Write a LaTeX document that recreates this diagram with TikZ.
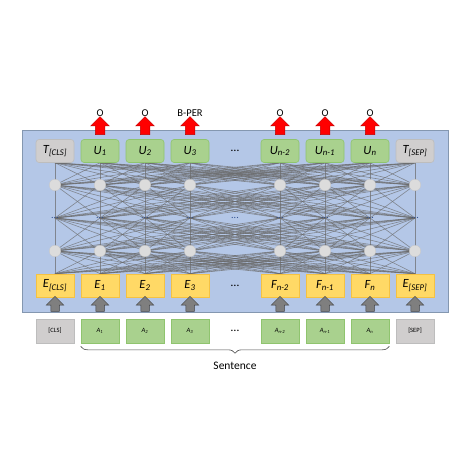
\documentclass[tikz,border=0pt]{standalone}
\usepackage{fontspec}
\setmainfont{Carlito}
\usetikzlibrary{positioning,shapes.arrows,decorations.pathreplacing,backgrounds}
\pgfdeclarelayer{wires}
\pgfsetlayers{background,wires,main}
\definecolor{panelblue}{HTML}{B4C7E7}
\definecolor{panelline}{HTML}{8497B0}
\definecolor{leafgreen}{HTML}{A9D18E}
\definecolor{leafline}{HTML}{8FC46E}
\definecolor{tokgrey}{HTML}{D0CECE}
\definecolor{tokline}{HTML}{BDBDBD}
\definecolor{embyellow}{HTML}{FFD966}
\definecolor{embline}{HTML}{F5C242}
\definecolor{outred}{HTML}{FF0000}
\definecolor{outedge}{HTML}{C00000}
\definecolor{ingrey}{HTML}{7F7F7F}
\definecolor{inedge}{HTML}{3F3F3F}
\definecolor{wiregrey}{HTML}{6A6A6A}
\definecolor{unitgrey}{HTML}{DCDCDC}
\definecolor{dotblue}{HTML}{2F4F8F}
\tikzset{
  panel/.style={draw=panelline,fill=panelblue,line width=0.8pt,inner sep=0pt,
                minimum width=426pt,minimum height=182pt},
  % boxes
  tbox/.style={draw=tokline,fill=tokgrey,rounded corners=3pt,line width=0.6pt,
               minimum width=38pt,minimum height=23pt,inner sep=0pt,font=\fontsize{12.5}{14}\selectfont\itshape},
  ubox/.style={tbox,draw=leafline,fill=leafgreen},
  ebox/.style={draw=embline,fill=embyellow,line width=0.6pt,
               minimum width=38pt,minimum height=23pt,inner sep=0pt,font=\fontsize{12.5}{14}\selectfont\itshape},
  abox/.style={draw=leafline,fill=leafgreen,line width=0.6pt,
               minimum width=38pt,minimum height=24pt,inner sep=0pt,font=\fontsize{6.5}{8}\selectfont\itshape},
  sbox/.style={abox,draw=tokline,fill=tokgrey,font=\fontsize{6.5}{8}\selectfont},
  % network
  unit/.style={circle,draw=unitgrey!90!black,fill=unitgrey,line width=0.3pt,
               minimum size=11.5pt,inner sep=0pt},
  ldots/.style={inner sep=0pt,text=dotblue,font=\fontsize{10}{10}\selectfont},
  gap/.style={inner sep=0pt,font=\fontsize{12}{12}\selectfont},
  wire/.style={draw=wiregrey,line width=0.6pt,opacity=0.7},
  % arrows
  outarrow/.style={single arrow,draw=outedge,fill=outred,line width=0.5pt,rotate=90,
                   inner xsep=0pt,inner ysep=4.5pt,minimum height=18pt,
                   single arrow head extend=4.5pt},
  inarrow/.style={single arrow,draw=inedge,fill=ingrey,line width=0.5pt,rotate=90,
                  inner xsep=0pt,inner ysep=4pt,minimum height=15pt,
                  single arrow head extend=4.5pt},
  tag/.style={inner sep=0pt,font=\fontsize{10.5}{12}\selectfont},
  brace/.style={draw=black!70,line width=0.6pt,decorate,
                decoration={brace,mirror,amplitude=7pt}},
}
\begin{document}
\begin{tikzpicture}[x=1pt,y=-1pt]
  \useasboundingbox (0,0) rectangle (474,474);
  \begin{scope}[on background layer]
    \node[panel] (panel) at (235,221) {};
  \end{scope}
  % top row
  \node[tbox] (top1) at (55,151) {T\textsubscript{[CLS]}};
  \node[ubox] (top2) at (100,151) {U\textsubscript{1}};
  \node[ubox] (top3) at (145,151) {U\textsubscript{2}};
  \node[ubox] (top4) at (190,151) {U\textsubscript{3}};
  \node[ubox] (top5) at (280,151) {U\textsubscript{n-2}};
  \node[ubox] (top6) at (325,151) {U\textsubscript{n-1}};
  \node[ubox] (top7) at (370,151) {U\textsubscript{n}};
  \node[tbox] (top8) at (415,151) {T\textsubscript{[SEP]}};
  % embeddings
  \node[ebox] (emb1) at (55,285.5) {E\textsubscript{[CLS]}};
  \node[ebox] (emb2) at (100,285.5) {E\textsubscript{1}};
  \node[ebox] (emb3) at (145,285.5) {E\textsubscript{2}};
  \node[ebox] (emb4) at (190,285.5) {E\textsubscript{3}};
  \node[ebox] (emb5) at (280,285.5) {F\textsubscript{n-2}};
  \node[ebox] (emb6) at (325,285.5) {F\textsubscript{n-1}};
  \node[ebox] (emb7) at (370,285.5) {F\textsubscript{n}};
  \node[ebox] (emb8) at (415,285.5) {E\textsubscript{[SEP]}};
  % tokens
  \node[sbox] (tok1) at (55,331) {[CLS]};
  \node[abox] (tok2) at (100,331) {A\textsubscript{1}};
  \node[abox] (tok3) at (145,331) {A\textsubscript{2}};
  \node[abox] (tok4) at (190,331) {A\textsubscript{3}};
  \node[abox] (tok5) at (280,331) {A\textsubscript{n-2}};
  \node[abox] (tok6) at (325,331) {A\textsubscript{n-1}};
  \node[abox] (tok7) at (370,331) {A\textsubscript{n}};
  \node[sbox] (tok8) at (415,331) {[SEP]};
  % hidden layers
  \foreach \c/\x in {1/55,2/100,3/145,4/190,5/280,6/325,7/370,8/415} {
    \node[unit] (hA\c) at (\x,185) {};
    \node[ldots] (d\c) at (\x,218) {...};
    \node[unit] (hB\c) at (\x,251) {};
    \node[inarrow] (in\c) at (\x,306) {};
  }
  \node[ldots] (gapD) at (235,218) {...};
  \node[gap] (gapT) at (235,151) {\dots};
  \node[gap] (gapE) at (235,285.5) {\dots};
  \node[gap] (gapA) at (235,331) {\dots};
  \begin{pgfonlayer}{wires}
    \foreach \i in {1,...,8}
      \foreach \j in {1,...,8} {
        \draw[wire] (top\i.south) -- (hA\j.center);
        \draw[wire] (hA\i.center) -- (d\j.center);
        \draw[wire] (d\i.center) -- (hB\j.center);
        \draw[wire] (hB\i.center) -- (emb\j.north);
      }
  \end{pgfonlayer}
  % outputs
  \foreach \c/\x/\t in {2/100/O,3/145/O,4/190/B-PER,5/280/O,6/325/O,7/370/O} {
    \node[outarrow] (out\c) at (\x,128) {};
    \node[tag] (lab\c) at (\x,113) {\t};
  }
  % sentence
  \draw[brace] ([yshift=-3pt]tok2.south west) -- ([yshift=-3pt]tok7.south east);
  \node[tag,font=\fontsize{11.5}{13}\selectfont] (sent) at (235,366) {Sentence};
\end{tikzpicture}
\end{document}
